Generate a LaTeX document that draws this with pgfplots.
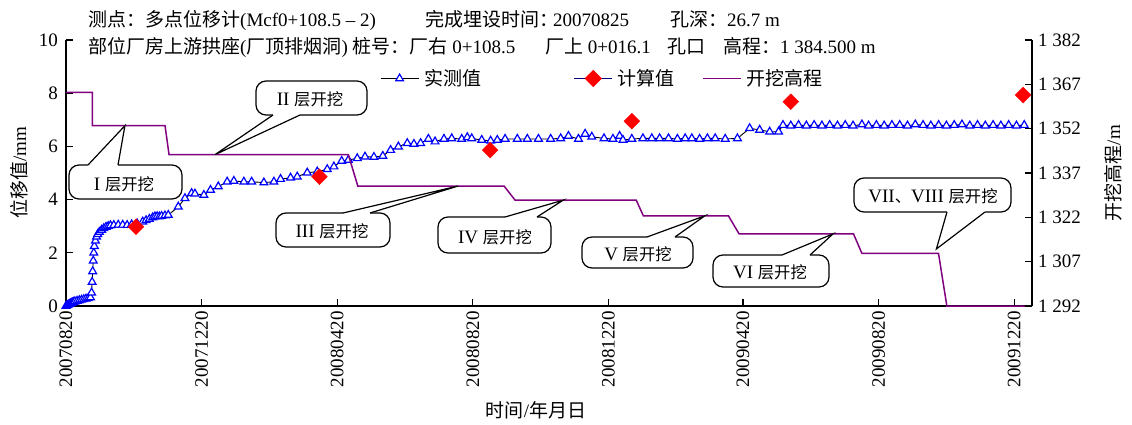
\documentclass[border=0pt]{standalone}
\usepackage{fontspec}
\setmainfont{Liberation Serif}
\newfontfamily\cjk{Noto Sans CJK SC}
\newfontfamily\cjkc[Scale=0.86]{Noto Sans CJK SC}
\usepackage{pgfplots}
\usepackage{pgfplotstable}
\pgfplotsset{compat=1.18}

\definecolor{elevpurple}{RGB}{128,0,128}
\definecolor{legnavy}{RGB}{0,0,128}

% measured displacement (days after 2007-08-20, mm)
\pgfplotstableread{
day disp
0 0.00
1 0.03
2 0.05
3 0.07
4 0.09
5 0.11
6 0.13
7 0.15
8 0.17
10 0.19
12 0.21
14 0.23
16 0.25
18 0.27
20 0.29
22 0.32
23 0.50
23.5 0.90
24 1.30
24.5 1.70
25 2.00
25.5 2.25
26.5 2.45
27.5 2.60
28.5 2.70
30 2.78
32 2.86
34 2.92
36 2.97
38 3.00
40 3.03
43 3.04
47 3.05
51 3.05
55 3.04
59 3.06
64 3.10
69 3.17
72 3.22
75 3.27
78 3.33
80 3.36
82 3.37
84 3.36
86 3.38
89 3.40
92 3.42
101 3.73
107 4.05
113 4.24
116 4.22
124 4.17
130 4.36
137 4.49
145 4.67
151 4.70
160 4.67
167 4.67
178 4.64
187 4.67
193 4.77
202 4.82
208 4.86
217 5.01
226 5.05
235 5.14
241 5.24
248 5.45
254 5.49
262 5.55
269 5.61
277 5.60
285 5.64
292 5.86
299 5.99
307 6.12
313 6.09
319 6.12
326 6.28
332 6.18
340 6.28
347 6.30
356 6.28
361 6.34
365 6.30
374 6.24
382 6.21
388 6.24
395 6.28
406 6.28
415 6.28
425 6.28
436 6.28
445 6.30
452 6.39
461 6.28
467 6.47
473 6.36
484 6.30
492 6.28
498 6.39
501 6.24
509 6.28
519 6.30
527 6.30
534 6.30
542 6.30
550 6.28
557 6.30
563 6.30
570 6.28
577 6.30
584 6.30
593 6.28
604 6.30
615 6.68
624 6.62
633 6.55
641 6.55
645 6.80
652 6.78
659 6.80
666 6.78
673 6.80
680 6.78
687 6.80
694 6.78
701 6.80
708 6.78
716 6.82
722 6.78
729 6.80
736 6.78
743 6.80
750 6.80
757 6.78
764 6.82
771 6.80
778 6.78
785 6.80
792 6.78
799 6.80
806 6.82
813 6.78
820 6.80
827 6.78
834 6.80
841 6.78
848 6.80
855 6.78
862 6.80
}\measured

% calculated displacement
\pgfplotstableread{
day disp
63 2.98
228 4.86
381.5 5.86
509 6.95
652 7.68
861 7.93
}\calculated

% excavation elevation (m)
\pgfplotstableread{
day elev
0 1364.3
23.7 1364.3
23.7 1353.0
89.1 1353.0
92.7 1343.2
254.0 1343.2
262.5 1332.6
394.1 1332.6
404.0 1327.8
513.0 1327.8
519.4 1322.5
595.9 1322.5
605.5 1316.4
708.4 1316.4
716.0 1309.8
784.9 1309.8
792.4 1292
862.9 1292
}\elevation

\newcommand{\bigfont}{\fontsize{19pt}{22pt}\selectfont}

% rounded box with a wedge pointing at a named coordinate
% #1,#2 box corners; #3,#4 wedge base x; #5 base y; #6 inward offset; #7 tip
\newcommand{\callout}[7]{%
  \draw[line width=1.2pt, rounded corners=10pt, fill=white] (#1) rectangle (#2);
  \fill[white] (#3,#5+#6) -- (#3,#5) -- (#7) -- (#4,#5) -- (#4,#5+#6) -- cycle;
  \draw[line width=1.2pt, line join=miter] (#3,#5) -- (#7) -- (#4,#5);
}

\begin{document}
\begin{tikzpicture}[font=\bigfont]
\useasboundingbox (-66pt,-118pt) rectangle (1066pt,306pt);

\begin{axis}[
  at={(0,0)}, anchor=south west,
  scale only axis, width=966pt, height=266pt,
  xmin=0, xmax=869, ymin=0, ymax=10,
  clip=false,
  axis x line*=bottom, axis y line*=left,
  axis line style={-, line width=1.2pt},
  tick align=inside, major tick length=7pt,
  tick style={black, line width=1.2pt},
  xtick={0,122,244,366,488,609,731,853},
  xticklabels={20070820,20071220,20080420,20080820,20081220,20090420,20090820,20091220},
  x tick label style={rotate=90, anchor=east, inner xsep=5pt, inner ysep=0pt, font=\bigfont},
  ytick={0,2,4,6,8,10},
  y tick label style={inner xsep=8pt, font=\bigfont},
  /pgf/number format/assume math mode=true,
  xlabel={{\cjk 时间}/{\cjk 年月日}},
  xlabel style={at={(axis description cs:0.4865,-0.391)}, anchor=center, font=\bigfont},
  ylabel={{\cjk 位移值}/mm},
  ylabel style={at={(axis description cs:-0.0487,0.5)}, anchor=center, font=\bigfont},
  legend columns=3,
  legend image code/.code={\draw[mark repeat=2,mark phase=2,#1] plot coordinates {(0pt,0pt) (19pt,0pt) (38pt,0pt)};},
  legend style={draw=none, fill=none, at={(axis description cs:0.325,0.855)}, anchor=west,
    inner sep=0pt, font=\bigfont, nodes={inner sep=3pt},
    /tikz/column 1/.style={column sep=2pt},
    /tikz/column 2/.style={column sep=89.7pt},
    /tikz/column 3/.style={column sep=2pt},
    /tikz/column 4/.style={column sep=24.7pt},
    /tikz/column 5/.style={column sep=2pt}},
]
\addlegendimage{black, line width=0.9pt, mark=triangle*, mark size=4.5pt,
  mark options={draw=blue, fill=white, line width=1.2pt}}
\addlegendimage{legnavy, line width=1pt, mark=square*, mark size=5.6pt,
  mark options={draw=red, fill=red, rotate=45}}
\addlegendimage{elevpurple, line width=1.5pt}
\legend{{\cjk 实测值},{\cjk 计算值},{\cjk 开挖高程}}

\addplot[forget plot, black, line width=0.9pt, mark=triangle*, mark size=4.5pt,
  mark options={draw=blue, fill=white, line width=1.2pt}] table[x=day, y=disp] {\measured};
\addplot[forget plot, only marks, mark=square*, mark size=5.6pt,
  mark options={draw=red, fill=red, rotate=45}] table[x=day, y=disp] {\calculated};
\end{axis}

\begin{axis}[
  at={(0,0)}, anchor=south west,
  scale only axis, width=966pt, height=266pt,
  xmin=0, xmax=869, ymin=1292, ymax=1382,
  axis x line=none, axis y line*=right,
  axis line style={-, line width=1.2pt},
  tick align=inside, major tick length=7pt,
  tick style={black, line width=1.2pt},
  ytick={1292,1307,1322,1337,1352,1367,1382},
  yticklabels={1~292,1~307,1~322,1~337,1~352,1~367,1~382},
  y tick label style={inner xsep=6pt, anchor=west, font=\bigfont},
  ylabel={{\cjk 开挖高程}/m},
  ylabel style={at={(axis description cs:1.0838,0.5)}, anchor=center, font=\bigfont},
]
\addplot[elevpurple, line width=1.5pt, no marks] table[x=day, y=elev] {\elevation};
\coordinate (tI) at (axis cs:53,1353.0);
\coordinate (tII) at (axis cs:134,1343.2);
\coordinate (tIII) at (axis cs:352.8,1332.6);
\coordinate (tIV) at (axis cs:447.2,1327.8);
\coordinate (tV) at (axis cs:574.6,1322.5);
\coordinate (tVI) at (axis cs:690,1316.4);
\coordinate (tVII) at (axis cs:783,1311.3);
\end{axis}

% header lines and excavation stage callouts, laid out in page units
\begin{scope}[x=1pt, y=-1pt, shift={(-66pt,306pt)}]
  \begin{scope}[every node/.style={anchor=base west, inner sep=0pt, font=\bigfont}]
    \node at (88,26) {{\cjk 测点：多点位移计}(Mcf0+108.5 – 2)};
    \node at (425,26) {{\cjk 完成埋设时间：}\hspace{-5pt}20070825};
    \node at (670,26) {{\cjk 孔深：}26.7 m};
    \node at (88,53) {{\cjk 部位厂房上游拱座}({\cjk 厂顶排烟洞}) {\cjk 桩号：厂右} 0+108.5};
    \node at (545,53) {{\cjk 厂上} 0+016.1};
    \node at (667,53) {{\cjk 孔口}};
    \node at (723,53) {{\cjk 高程：}1 384.500 m};
  \end{scope}

  \callout{69,165}{182,199}{88}{118}{165}{3}{tI}
  \node at (124,184) {I {\cjkc 层开挖}};
  \callout{256,81}{367,115}{273}{300}{115}{-3}{tII}
  \node at (310,99) {II {\cjkc 层开挖}};
  \callout{276,213}{390,247}{343}{370}{213}{3}{tIII}
  \node at (332,231) {III {\cjkc 层开挖}};
  \callout{438,217}{551,253}{505}{537}{217}{3}{tIV}
  \node at (495,237) {IV {\cjkc 层开挖}};
  \callout{582,237}{693,268}{647}{675}{237}{3}{tV}
  \node at (638,254) {V {\cjkc 层开挖}};
  \callout{713,255}{829,287}{782}{810}{255}{3}{tVI}
  \node at (770,272) {VI {\cjkc 层开挖}};
  \callout{854,178}{1011,212}{947}{985}{212}{-3}{tVII}
  \node at (933,196) {VII{\cjkc 、}VIII {\cjkc 层开挖}};
\end{scope}
\end{tikzpicture}
\end{document}
